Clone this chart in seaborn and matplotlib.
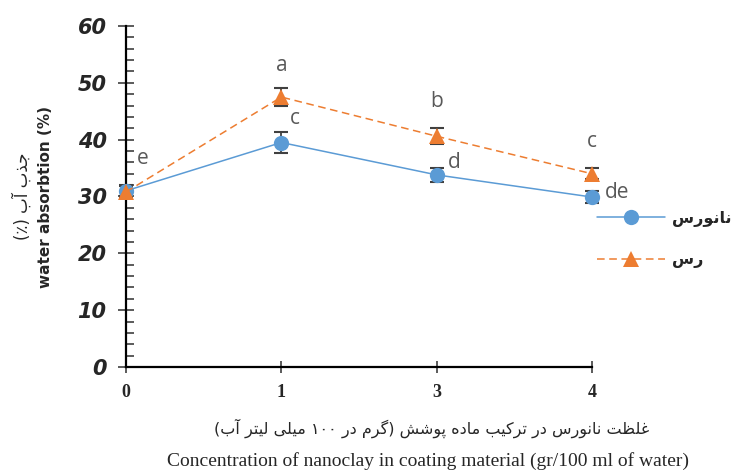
import pandas as pd
import seaborn as sns
import matplotlib.pyplot as plt

# data
conc = ['0', '1', '3', '4']
nanoclay = [31.0, 39.5, 33.8, 29.9]        # نانورس
nanoclay_err = [1.0, 1.9, 1.2, 1.1]
clay = [30.8, 47.5, 40.6, 34.0]            # رس
clay_err = [1.0, 1.6, 1.4, 1.0]
nanoclay_letters = ['e', 'c', 'd', 'de']
clay_letters = ['', 'a', 'b', 'c']

name_nano = 'نانورس'
name_clay = 'رس'
ylabel_fa = 'جذب آب (٪)'
ylabel_en = 'water absorbtion (%)'
xlabel_fa = 'غلظت نانورس در ترکیب ماده پوشش (گرم در ۱۰۰ میلی لیتر آب)'
xlabel_en = 'Concentration of nanoclay in coating material (gr/100 ml of water)'

# small persian shaper (matplotlib has no complex text layout)
FORMS = {
    0x0627: (0xFE8D, 0xFE8E), 0x0622: (0xFE81, 0xFE82),
    0x0628: (0xFE8F, 0xFE90, 0xFE91, 0xFE92), 0x067E: (0xFB56, 0xFB57, 0xFB58, 0xFB59),
    0x062A: (0xFE95, 0xFE96, 0xFE97, 0xFE98), 0x062C: (0xFE9D, 0xFE9E, 0xFE9F, 0xFEA0),
    0x062F: (0xFEA9, 0xFEAA), 0x0630: (0xFEAB, 0xFEAC),
    0x0631: (0xFEAD, 0xFEAE), 0x0633: (0xFEB1, 0xFEB2, 0xFEB3, 0xFEB4),
    0x0634: (0xFEB5, 0xFEB6, 0xFEB7, 0xFEB8), 0x0638: (0xFEC5, 0xFEC6, 0xFEC7, 0xFEC8),
    0x063A: (0xFECD, 0xFECE, 0xFECF, 0xFED0), 0x06A9: (0xFB8E, 0xFB8F, 0xFB90, 0xFB91),
    0x06AF: (0xFB92, 0xFB93, 0xFB94, 0xFB95), 0x0644: (0xFEDD, 0xFEDE, 0xFEDF, 0xFEE0),
    0x0645: (0xFEE1, 0xFEE2, 0xFEE3, 0xFEE4), 0x0646: (0xFEE5, 0xFEE6, 0xFEE7, 0xFEE8),
    0x0647: (0xFEE9, 0xFEEA, 0xFEEB, 0xFEEC), 0x0648: (0xFEED, 0xFEEE),
    0x06CC: (0xFBFC, 0xFBFD, 0xFBFE, 0xFBFF),
}


def fa(text):
    cps = [ord(c) for c in text]
    out = []
    for i, c in enumerate(cps):
        if c not in FORMS:
            out.append(chr(c))
            continue
        f = FORMS[c]
        prev = cps[i - 1] if i > 0 else None
        nxt = cps[i + 1] if i + 1 < len(cps) else None
        pj = prev in FORMS and len(FORMS[prev]) == 4
        nj = nxt in FORMS and len(f) == 4
        if pj and nj:
            out.append(chr(f[3]))
        elif pj:
            out.append(chr(f[1]))
        elif nj:
            out.append(chr(f[2]))
        else:
            out.append(chr(f[0]))
    # visual order: reverse, keep digit runs, mirror brackets
    runs = []
    for ch in out:
        if ch.isdigit() and runs and runs[-1][0].isdigit():
            runs[-1] += ch
        else:
            runs.append(ch)
    mirror = {'(': ')', ')': '('}
    return ''.join(mirror.get(r, r) for r in reversed(runs))


sns.set_style('ticks')
plt.rcParams['font.family'] = ['DejaVu Sans']

blue = '#5B9BD5'
orange = '#ED7D31'
gray = '#404040'

df = pd.DataFrame({'conc': conc, 'nano': nanoclay, 'clay': clay})

fig = plt.figure(figsize=(7.31, 4.72), dpi=100)
ax = fig.add_axes([0.1724, 0.2225, 0.6375, 0.7224])

sns.lineplot(data=df, x='conc', y='nano', ax=ax, color=blue, marker='o', markersize=11,
             markeredgewidth=0, linewidth=1.1, label=fa(name_nano), clip_on=False, zorder=3)
sns.lineplot(data=df, x='conc', y='clay', ax=ax, color=orange, marker='^', markersize=11,
             markeredgewidth=0, linewidth=1.1, linestyle=(0, (5, 3)), label=fa(name_clay),
             clip_on=False, zorder=3)
ax.errorbar(conc, nanoclay, yerr=nanoclay_err, fmt='none', ecolor=gray, elinewidth=1.3,
            capsize=5, capthick=1.5, zorder=2, clip_on=False)
ax.errorbar(conc, clay, yerr=clay_err, fmt='none', ecolor=gray, elinewidth=1.3,
            capsize=5, capthick=1.5, zorder=2, clip_on=False)

# significance letters
label_kw = dict(textcoords='offset points', color='#595959', fontsize=15, family='Open Sans')
nano_off = [(8, 23), (6, 17), (8, 9), (9, 3)]
clay_off = [(0, 0), (0, 23), (0, 25), (0, 23)]
for x, y, t, o in zip(conc, nanoclay, nanoclay_letters, nano_off):
    ax.annotate(t, (x, y), xytext=o, ha='left', va='center', **label_kw)
for x, y, t, o in zip(conc, clay, clay_letters, clay_off):
    if t:
        ax.annotate(t, (x, y), xytext=o, ha='center', va='center', **label_kw)

ax.set_xlim(0, 3)
ax.set_ylim(0, 60)
ax.set_yticks(range(0, 61, 10))
ax.set_yticks(range(0, 61, 2), minor=True)
ax.set_xlabel('')
ax.set_ylabel('')
sns.despine(ax=ax)
for s in ['left', 'bottom']:
    ax.spines[s].set_linewidth(1.6)
    ax.spines[s].set_color('black')
ax.tick_params(axis='y', which='major', left=True, direction='inout', length=12, width=1.2,
               color=gray, pad=8)
ax.tick_params(axis='y', which='minor', left=True, direction='in', length=6, width=1.2,
               color=gray)
ax.tick_params(axis='x', which='major', bottom=True, direction='inout', length=8, width=1.2,
               color=gray, pad=8)
for lab in ax.get_yticklabels():
    lab.set_fontsize(15)
    lab.set_fontweight('bold')
    lab.set_fontstyle('italic')
for lab in ax.get_xticklabels():
    lab.set_fontsize(13)
    lab.set_fontweight('bold')
    lab.set_family('Liberation Serif')

leg = ax.legend(loc='center left', bbox_to_anchor=(1.01, 0.374), frameon=False,
                handlelength=4.3, handletextpad=0.4, labelspacing=1.6, borderpad=0,
                borderaxespad=0, prop={'size': 11.5, 'weight': 'bold'})

fig.text(0.03, 0.585, fa(ylabel_fa), rotation=90, ha='center', va='center',
         fontsize=12)
fig.text(0.062, 0.583, ylabel_en, rotation=90, ha='center', va='center',
         fontsize=11, fontweight='bold')
fig.text(0.591, 0.093, fa(xlabel_fa), ha='center', va='center', fontsize=11.5)
fig.text(0.585, 0.023, xlabel_en, ha='center', va='center', fontsize=14,
         family='Liberation Serif')

fig.savefig('out.png', dpi=100)
